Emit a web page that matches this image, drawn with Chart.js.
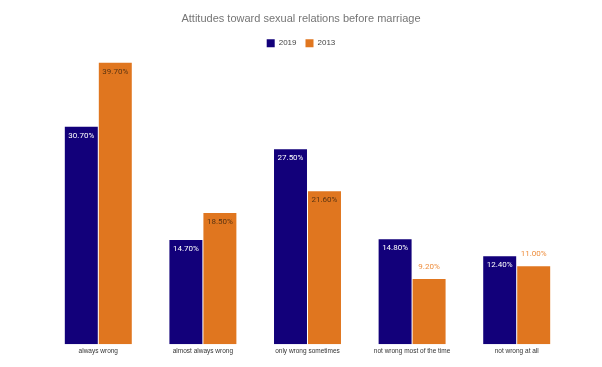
<!DOCTYPE html>
<html>
<head>
<meta charset="utf-8">
<script src="https://cdn.jsdelivr.net/npm/chart.js@4.4.1/dist/chart.umd.min.js"></script>
<style>
  html, body { margin: 0; padding: 0; background: #fff; }
  #wrap { width: 602px; height: 367px; }
</style>
</head>
<body>
<div id="wrap"><canvas id="attitudesChart"></canvas></div>
<script>
const categories = ['always wrong', 'almost always wrong', 'only wrong sometimes', 'not wrong most of the time', 'not wrong at all'];
const values2019 = [30.7, 14.7, 27.5, 14.8, 12.4];
const values2013 = [39.7, 18.5, 21.6, 9.2, 11.0];

// draws the % labels on top of / inside the bars
const barLabels = {
    id: 'barLabels',
    afterDatasetsDraw(chart) {
        const ctx = chart.ctx;
        ctx.save();
        ctx.font = '8px Roboto';
        ctx.textAlign = 'center';
        chart.data.datasets.forEach((ds, i) => {
            chart.getDatasetMeta(i).data.forEach((bar, j) => {
                const v = ds.data[j];
                const text = v.toFixed(2) + '%';
                const inside = i === 0 || v >= 15;
                if (inside) {
                    ctx.fillStyle = i === 0 ? '#ffffff' : '#5a3412';
                    ctx.textBaseline = 'top';
                    ctx.fillText(text, bar.x, bar.y + 5);
                } else {
                    ctx.fillStyle = '#ee8d3c';
                    ctx.textBaseline = 'bottom';
                    ctx.fillText(text, bar.x, bar.y - 8);
                }
            });
        });
        ctx.restore();
    }
};

const ctx = document.getElementById('attitudesChart').getContext('2d');
new Chart(ctx, {
    type: 'bar',
    data: {
        labels: categories,
        datasets: [{
            label: '2019',
            data: values2019,
            backgroundColor: '#12007a'
        }, {
            label: '2013',
            data: values2013,
            backgroundColor: '#e0761f'
        }]
    },
    options: {
        responsive: true,
        maintainAspectRatio: false,
        animation: false,
        layout: { padding: { left: 33, right: 33, top: 0, bottom: 9 } },
        categoryPercentage: 0.65,
        barPercentage: 0.97,
        plugins: {
            title: {
                display: true,
                text: 'Attitudes toward sexual relations before marriage',
                color: '#757575',
                font: { family: 'Arial', size: 11, weight: 'normal' },
                padding: { top: 12, bottom: 5 }
            },
            legend: {
                labels: {
                    boxWidth: 8,
                    boxHeight: 8,
                    color: '#444',
                    font: { family: 'Arial', size: 8 },
                    padding: 9
                }
            },
            tooltip: { enabled: false }
        },
        scales: {
            x: {
                grid: { display: false, drawTicks: false },
                border: { display: false },
                ticks: { color: '#333', font: { family: 'Arial', size: 6.5 }, padding: 3 }
            },
            y: {
                display: true,
                min: 0,
                max: 40.5,
                grid: { display: false, drawTicks: false },
                border: { display: false },
                ticks: { display: false },
                afterFit(scale) { scale.width = 13; }
            }
        }
    },
    plugins: [barLabels]
});
</script>
</body>
</html>
